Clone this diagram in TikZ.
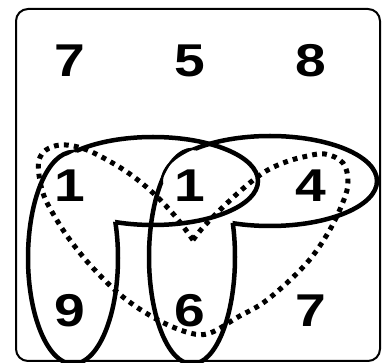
\documentclass[tikz,border=0pt]{standalone}
\usepackage{fontspec}
\newfontfamily\digitfont{Liberation Sans}[FakeStretch=1.2]
\usepackage{tikz}
\definecolor{BLACK}{HTML}{000000}

\begin{document}
\begin{tikzpicture}[x=1pt, y=-1pt,
    num/.style={BLACK, inner sep=0pt, font=\digitfont\bfseries\fontsize{46}{46}\selectfont},
    setline/.style={BLACK, line width=4.5pt},
    dots/.style={BLACK, line width=5pt, dash pattern=on 4.8pt off 5.2pt}]
    \useasboundingbox (0,0) rectangle (383,363);
    \draw[BLACK, line width=2pt, rounded corners=12pt] (16,9) rectangle (380,361);
    % left set
    \begin{scope}[even odd rule]
        \clip (0,0) rectangle (383,363) (73,258) ellipse [x radius=45, y radius=106];
        \draw[setline] (153,181) ellipse [x radius=105, y radius=44];
    \end{scope}
    \begin{scope}[even odd rule]
        \clip (0,0) rectangle (383,363) (153,181) ellipse [x radius=105, y radius=44];
        \draw[setline] (73,258) ellipse [x radius=45, y radius=106];
    \end{scope}
    % right set
    \begin{scope}[even odd rule]
        \clip (0,0) rectangle (383,363) (192,257) ellipse [x radius=43, y radius=107];
        \draw[setline] (270,181) ellipse [x radius=107, y radius=45];
    \end{scope}
    \begin{scope}[even odd rule]
        \clip (0,0) rectangle (383,363) (270,181) ellipse [x radius=107, y radius=45];
        \draw[setline] (192,257) ellipse [x radius=43, y radius=107];
    \end{scope}
    % dotted set
    \draw[dots] plot[smooth, tension=0.6] coordinates {(193,240) (175,216) (152,192) (127,172)
        (98,155) (78,147) (60,145) (46,150) (39,160) (39,175) (44,196) (55,217) (70,240)
        (92,267) (123,297) (158,320) (190,333) (210,333) (238,317) (267,300) (305,265)
        (328,233) (343,202) (348,182) (343,163) (325,154) (303,157) (283,163) (263,173)
        (238,193) (207,223) (193,240)};
    \node[num] (a1) at (70,61) {7};
    \node[num] (a2) at (190,61) {5};
    \node[num] (a3) at (311,61) {8};
    \node[num] (b1) at (70,186) {1};
    \node[num] (b2) at (190,186) {1};
    \node[num] (b3) at (311,186) {4};
    \node[num] (c1) at (70,311) {9};
    \node[num] (c2) at (190,311) {6};
    \node[num] (c3) at (311,311) {7};
\end{tikzpicture}
\end{document}
